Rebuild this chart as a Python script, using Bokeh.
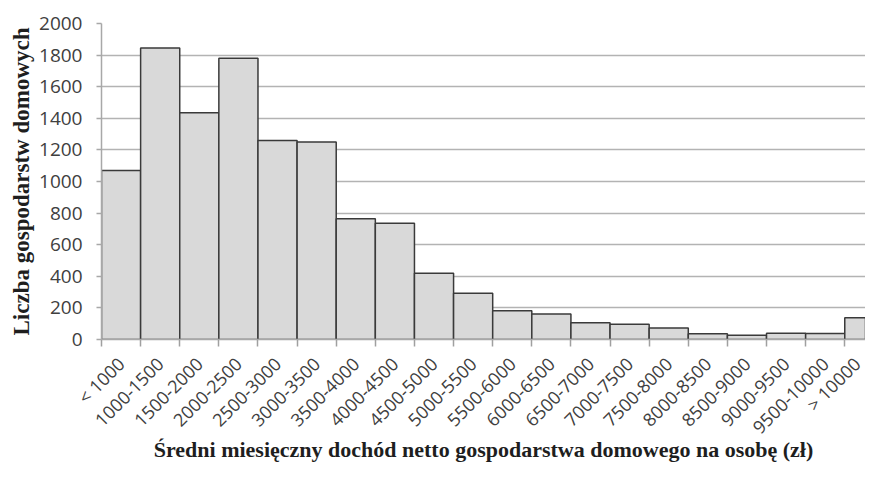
import math
from bokeh.plotting import figure
from bokeh.models import Range1d, FixedTicker, ColumnDataSource
from bokeh.embed import file_html
from bokeh.resources import INLINE

categories = ["< 1000", "1000-1500", "1500-2000", "2000-2500", "2500-3000",
              "3000-3500", "3500-4000", "4000-4500", "4500-5000", "5000-5500",
              "5500-6000", "6000-6500", "6500-7000", "7000-7500", "7500-8000",
              "8000-8500", "8500-9000", "9000-9500", "9500-10000", "> 10000"]
counts = [1070, 1845, 1435, 1780, 1260, 1250, 765, 735, 420, 292,
          182, 161, 106, 96, 73, 36, 27, 40, 38, 138]
y_ticks = [0, 200, 400, 600, 800, 1000, 1200, 1400, 1600, 1800, 2000]

n = len(categories)
centers = [i + 0.5 for i in range(n)]
bounds = [float(i) for i in range(n + 1)]

src = ColumnDataSource(dict(x=centers, top=counts, cat=categories))

p = figure(width=865, height=465, output_backend="svg", toolbar_location=None,
           x_range=Range1d(0, 19.53), y_range=Range1d(0, 2000),
           min_border_left=101, min_border_top=23, min_border_bottom=124,
           min_border_right=0)
p.background_fill_color = "white"
p.border_fill_color = "white"
p.outline_line_color = None

p.vbar(x="x", top="top", width=1, source=src, fill_color="#d9d9d9",
       line_color="#3a3a3a", line_width=1.5)

# grid
p.xgrid.grid_line_color = None
p.ygrid.ticker = FixedTicker(ticks=y_ticks)
p.ygrid.grid_line_color = "#b3b3b3"
p.ygrid.grid_line_width = 1.5
p.ygrid.level = "underlay"

# x axis
xa = p.xaxis[0]
xa.ticker = FixedTicker(ticks=centers, minor_ticks=bounds)
xa.major_label_overrides = {c: lab for c, lab in zip(centers, categories)}
xa.major_tick_out = 0
xa.major_tick_in = 0
xa.minor_tick_out = 7
xa.minor_tick_in = 0
xa.minor_tick_line_color = "#a0a0a0"
xa.minor_tick_line_width = 1.5
xa.axis_line_color = "#a8a8a8"
xa.axis_line_width = 1.5
xa.major_label_orientation = math.pi / 4
xa.major_label_text_font = "Open Sans"
xa.major_label_text_font_size = "18px"
xa.major_label_text_color = "#404040"
xa.major_label_standoff = 14
xa.axis_label = "Średni miesięczny dochód netto gospodarstwa domowego na osobę (zł)"
xa.axis_label_text_font = "Liberation Serif"
xa.axis_label_text_font_style = "bold"
xa.axis_label_text_font_size = "22px"
xa.axis_label_text_color = "#1e1e1e"
xa.axis_label_standoff = -13

# y axis
ya = p.yaxis[0]
ya.ticker = FixedTicker(ticks=y_ticks)
ya.minor_tick_line_color = None
ya.major_tick_out = 5
ya.major_tick_in = 0
ya.major_tick_line_color = "#a8a8a8"
ya.major_tick_line_width = 1.5
ya.axis_line_color = "#a8a8a8"
ya.axis_line_width = 1.5
ya.major_label_text_font = "Open Sans"
ya.major_label_text_font_size = "19px"
ya.major_label_text_color = "#404040"
ya.major_label_standoff = 14
ya.axis_label = "Liczba gospodarstw domowych"
ya.axis_label_text_font = "Liberation Serif"
ya.axis_label_text_font_style = "bold"
ya.axis_label_text_font_size = "23px"
ya.axis_label_text_color = "#1e1e1e"
ya.axis_label_standoff = 2

open("out.html", "w").write(file_html(p, INLINE))
